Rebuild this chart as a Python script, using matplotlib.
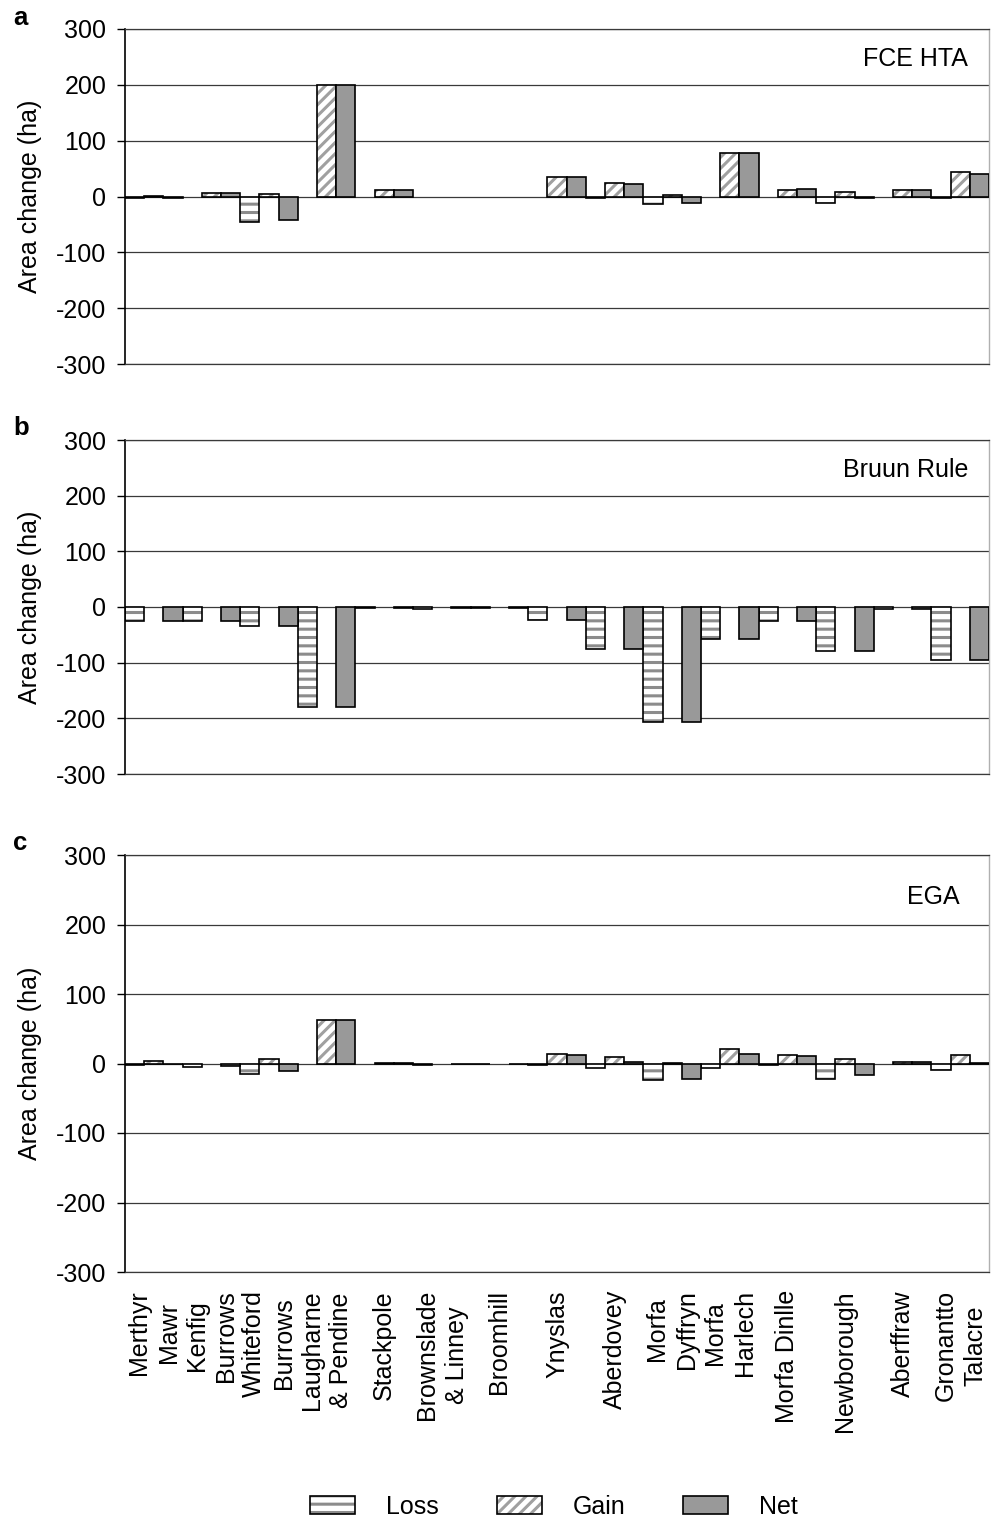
import numpy as np
import matplotlib
matplotlib.use("Agg")
import matplotlib.pyplot as plt
from matplotlib.patches import Patch

plt.rcParams['font.family'] = ['Liberation Sans', 'DejaVu Sans']
plt.rcParams['hatch.linewidth'] = 2.2

sites = ["Merthyr\nMawr", "Kenfig\nBurrows", "Whiteford\nBurrows", "Laugharne\n& Pendine",
         "Stackpole", "Brownslade\n& Linney", "Broomhill", "Ynyslas", "Aberdovey",
         "Morfa\nDyffryn", "Morfa\nHarlech", "Morfa Dinlle", "Newborough", "Aberffraw",
         "Gronantto\nTalacre"]

# Panel a: FCE HTA
loss_a = [-3, 0, -46, 0, 0, 0, 0, 0, -2, -14, 0, 0, -11, 0, -2]
gain_a = [1, 7, 4, 200, 12, 0, 0, 35, 24, 3, 78, 12, 8, 12, 44]
net_a = [-2, 7, -42, 200, 12, 0, 0, 35, 22, -11, 78, 13, -3, 12, 41]

# Panel b: Bruun Rule
loss_b = [-26, -26, -34, -179, -2, -3, -2, -23, -76, -207, -57, -26, -79, -4, -96]
gain_b = [0, 0, 0, 0, 0, 0, 0, 0, 0, 0, 0, 0, 0, 0, 0]
net_b = [-26, -26, -34, -179, -2, -2, -2, -23, -75, -207, -57, -26, -79, -3, -96]

# Panel c: EGA
loss_c = [-2, -5, -15, 0, 0, -2, -1, -2, -7, -24, -6, -2, -23, 0, -10]
gain_c = [3, 0, 6, 63, 1, 0, 0, 13, 10, 1, 21, 12, 6, 2, 12]
net_c = [-1, -4, -11, 63, 1, -1, -1, 12, 2, -23, 13, 11, -16, 2, 1]

panel_letters = ["a", "b", "c"]
panel_titles = ["FCE HTA", "Bruun Rule", "EGA"]
yticks = [-300, -200, -100, 0, 100, 200, 300]
legend_labels = ["Loss", "Gain", "Net"]

W, H = 996, 1520
fig = plt.figure(figsize=(W / 100, H / 100), dpi=100)

# axes boxes in pixels: (left, top, right, bottom)
boxes = [(125, 29, 989, 364), (125, 440, 989, 774), (125, 855, 989, 1272)]
letter_y = [18, 428, 843]
title_pos = [(0.9757, 0.91), (0.9757, 0.91), (0.966, 0.899)]

LOSS_GRAY = '#8c8c8c'
GAIN_GRAY = '#a0a0a0'
NET_GRAY = '#999999'
FS = 18

data = [(loss_a, gain_a, net_a), (loss_b, gain_b, net_b), (loss_c, gain_c, net_c)]
n = len(sites)
base = np.arange(n) * 3


def hatched_bars(ax, x, h, hatch, hcolor):
    x = np.asarray(x, float)
    h = np.asarray(h, float)
    m = h != 0
    ax.bar(x[m], h[m], width=1.0, align='edge', color='white', edgecolor=hcolor,
           hatch=hatch, linewidth=0, zorder=2)
    ax.bar(x[m], h[m], width=1.0, align='edge', fill=False, edgecolor='black',
           linewidth=1.2, zorder=3)


for i, (box, (lo, ga, ne)) in enumerate(zip(boxes, data)):
    l, t, r, b = box
    ax = fig.add_axes([l / W, 1 - b / H, (r - l) / W, (b - t) / H])
    hatched_bars(ax, base, lo, '--', LOSS_GRAY)
    hatched_bars(ax, base + 1, ga, '///', GAIN_GRAY)
    ne_arr = np.asarray(ne, float)
    m = ne_arr != 0
    ax.bar((base + 2)[m], ne_arr[m], width=1.0, align='edge', color=NET_GRAY,
           edgecolor='black', linewidth=1.2, zorder=3)

    ax.set_xlim(0, 3 * n)
    ax.set_ylim(-300, 300)
    ax.set_yticks(yticks)
    ax.set_yticklabels([str(v) for v in yticks], fontsize=FS)
    ax.tick_params(axis='y', direction='out', length=5.5, width=1, pad=8)
    ax.set_axisbelow(True)
    ax.yaxis.grid(True, color='#3a3a3a', linewidth=0.9)
    for s in ['top', 'bottom']:
        ax.spines[s].set_color('#3a3a3a')
        ax.spines[s].set_linewidth(0.9)
    ax.spines['left'].set_color('black')
    ax.spines['left'].set_linewidth(1.2)
    ax.spines['right'].set_color('#b0b0b0')
    ax.spines['right'].set_linewidth(1.0)

    ax.set_xticks(base + 1.5)
    if i == 2:
        ax.set_xticklabels(sites, rotation=90, fontsize=FS, multialignment='center',
                           linespacing=1.3)
        ax.tick_params(axis='x', length=0, pad=13)
    else:
        ax.set_xticklabels([])
        ax.tick_params(axis='x', length=0)

    ax.set_ylabel("Area change (ha)", fontsize=FS, va='center')
    ax.yaxis.set_label_coords((30 - l) / (r - l), 0.5)

    ax.text(title_pos[i][0], title_pos[i][1], panel_titles[i], transform=ax.transAxes,
            ha='right', va='center', fontsize=FS)
    fig.text(13 / W, 1 - letter_y[i] / H, panel_letters[i], fontsize=18.5, fontweight='bold',
             ha='left', va='center')

h_loss = (Patch(facecolor='white', edgecolor=LOSS_GRAY, hatch='--', linewidth=0),
          Patch(fill=False, edgecolor='black', linewidth=1.2))
h_gain = (Patch(facecolor='white', edgecolor=GAIN_GRAY, hatch='///', linewidth=0),
          Patch(fill=False, edgecolor='black', linewidth=1.2))
h_net = Patch(facecolor=NET_GRAY, edgecolor='black', linewidth=1.2)

fig.legend([h_loss, h_gain, h_net], legend_labels, loc='center',
           bbox_to_anchor=(554 / W, 1 - 1507 / H), ncol=3, frameon=False,
           fontsize=FS, handlelength=1.8, handleheight=0.75, handletextpad=1.25,
           columnspacing=2.3)

fig.savefig("out.png", dpi=100)
